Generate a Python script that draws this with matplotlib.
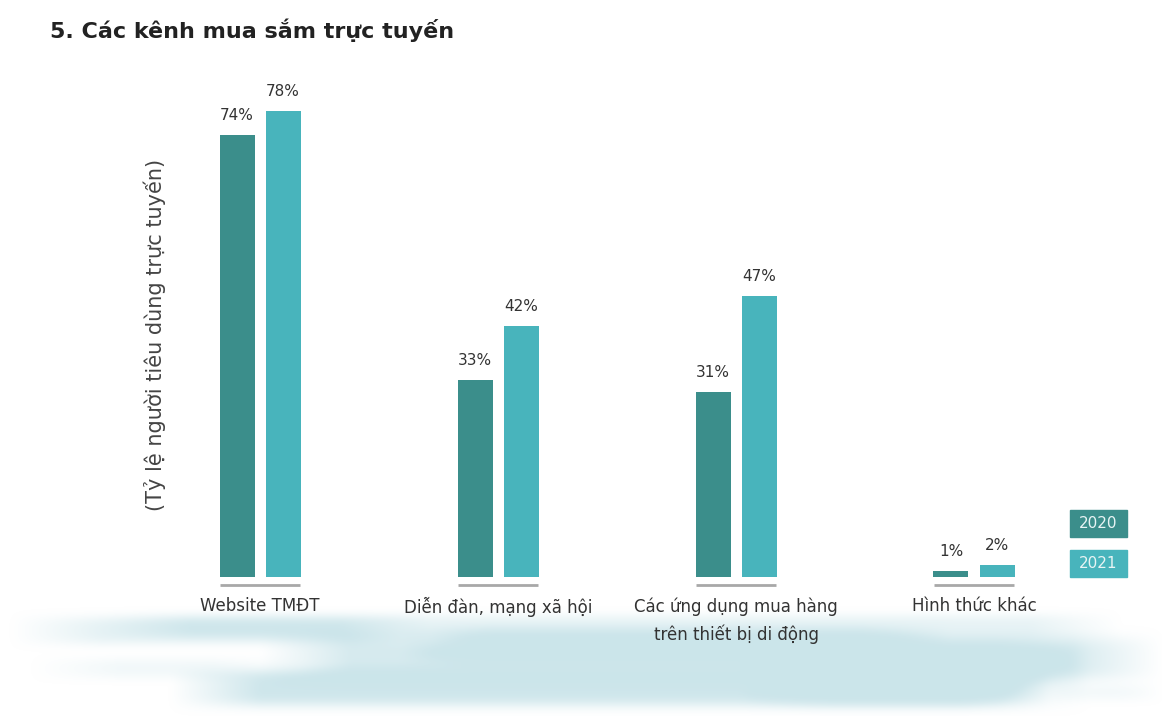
import matplotlib.pyplot as plt
import numpy as np
from matplotlib.patches import Rectangle

plt.rcParams['font.family'] = ['DejaVu Sans']

categories = ['Website TMĐT', 'Diễn đàn, mạng xã hội',
              'Các ứng dụng mua hàng\ntrên thiết bị di động', 'Hình thức khác']
years = ['2020', '2021']
share_2020 = [74, 33, 31, 1]
share_2021 = [78, 42, 47, 2]

c2020 = '#3b8e8b'
c2021 = '#48b4bc'
W, H = 1162, 716

fig = plt.figure(figsize=(W / 100, H / 100), dpi=100)

# soft watercolour wash along the bottom
bg = fig.add_axes([0, 0, 1, 1], zorder=0)
xx, yy = np.meshgrid(np.arange(W), np.arange(H))
wash = np.zeros((H, W))
strokes = [  # x0, x1, y centre, half height, strength
    (10, 430, 630, 14, 0.5),
    (100, 1120, 626, 12, 0.45),
    (260, 1162, 658, 22, 0.8),
    (170, 1050, 688, 18, 0.95),
    (740, 1090, 672, 30, 0.85),
    (1050, 1162, 692, 8, 0.55),
    (400, 950, 645, 18, 0.6),
    (30, 300, 668, 10, 0.25),
]
for x0, x1, yc, hh, s in strokes:
    ramp = np.clip((xx - x0) / 90, 0, 1) * np.clip((x1 - xx) / 90, 0, 1)
    wash += s * ramp * np.exp(-((yy - yc) / hh) ** 4)
wash = np.clip(wash, 0, 1)
k = np.ones(11) / 11
wash = np.apply_along_axis(lambda r: np.convolve(r, k, mode='same'), 1, wash)
wash = np.apply_along_axis(lambda r: np.convolve(r, k, mode='same'), 0, wash)
img = np.zeros((H, W, 4))
img[..., :3] = (0.78, 0.89, 0.91)
img[..., 3] = wash * 0.9
bg.imshow(img, extent=(0, W, H, 0), aspect='auto')
bg.set_xlim(0, W)
bg.set_ylim(H, 0)
bg.axis('off')

# bar chart, baseline at 577 px from the top
px = 5.97
ax = fig.add_axes([100 / W, (H - 577) / H, 960 / W, 537 / H], zorder=1)
ax.set_facecolor('none')
ax.set_xlim((100 - 260) / 238, (1060 - 260) / 238)
ax.set_ylim(0, 537 / px)

x = np.arange(len(categories))
bw = 35 / 238
off = 23 / 238
b1 = ax.bar(x - off, share_2020, bw, color=c2020)
b2 = ax.bar(x + off, share_2021, bw, color=c2021)
for bars, vals in [(b1, share_2020), (b2, share_2021)]:
    for b, v in zip(bars, vals):
        ax.text(b.get_x() + b.get_width() / 2, v + 12 / px, f'{v}%',
                ha='center', va='bottom', fontsize=11, color='#333333')

ax.hlines(np.full(len(x), -8 / px), x - 40 / 238, x + 40 / 238,
          color='#a8a8a8', lw=2, clip_on=False)
for xi, lab in zip(x, categories):
    ax.text(xi, -20 / px, lab, ha='center', va='top', fontsize=12,
            color='#333333', linespacing=1.6)

for s in ax.spines.values():
    s.set_visible(False)
ax.set_xticks([])
ax.set_yticks([])

fig.text(50 / W, 1 - 30 / H, '5. Các kênh mua sắm trực tuyến', fontsize=16,
         fontweight='bold', color='#222222', va='center', ha='left')
fig.text(155 / W, 1 - 335 / H, '(Tỷ lệ người tiêu dùng trực tuyến)',
         fontsize=15, rotation=90, color='#444444', ha='center', va='center')

# legend boxes
for i, (yr, col) in enumerate(zip(years, [c2020, c2021])):
    top = 510 + i * 40
    fig.patches.append(Rectangle((1070 / W, 1 - (top + 27) / H), 57 / W, 27 / H,
                                 transform=fig.transFigure, color=col, zorder=2))
    fig.text(1098.5 / W, 1 - (top + 13.5) / H, yr, ha='center', va='center',
             fontsize=11, color='#e8f4f4', zorder=3)

fig.savefig('out.png', dpi=100, facecolor='white')
